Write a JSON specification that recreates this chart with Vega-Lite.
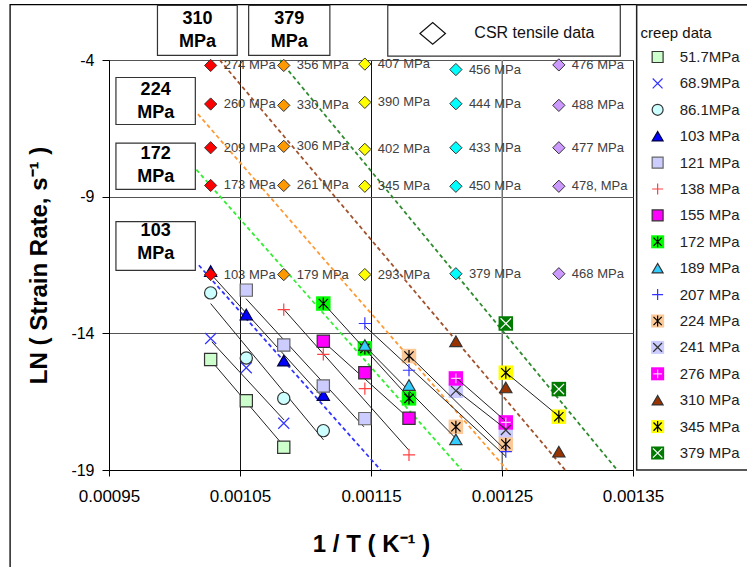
{
  "$schema": "https://vega.github.io/schema/vega-lite/v6.json",
  "width": 524,
  "height": 410,
  "autosize": {"type": "none"},
  "padding": {"left": 109, "top": 60, "right": 114, "bottom": 97},
  "background": "white",
  "config": {
    "font": "Liberation Sans",
    "view": {"stroke": "#808080", "strokeWidth": 1},
    "axisX": {"labelFontSize": 17, "labelColor": "#000", "tickColor": "#000", "tickSize": 6, "domainColor": "#000", "titleFontSize": 24, "titleFontWeight": "bold", "titleColor": "#000", "labelPadding": 12, "titlePadding": 28, "labelFlush": false, "labelFont": "Liberation Sans", "titleFont": "Liberation Sans"},
    "axisY": {"labelFontSize": 16, "labelColor": "#000", "tickColor": "#000", "tickSize": 7, "domainColor": "#000", "titleFontSize": 24, "titleFontWeight": "bold", "titleColor": "#000", "labelPadding": 8, "titlePadding": 19, "labelFlush": false, "labelFont": "Liberation Sans", "titleFont": "Liberation Sans"}
  },
  "datasets": {
    "creep": [
      {"stress": "51.7MPa", "invT": 0.0010276, "ln": -14.96},
      {"stress": "51.7MPa", "invT": 0.0010548, "ln": -16.47},
      {"stress": "51.7MPa", "invT": 0.0010834, "ln": -18.17},
      {"stress": "68.9MPa", "invT": 0.0010276, "ln": -14.19},
      {"stress": "68.9MPa", "invT": 0.0010548, "ln": -15.26},
      {"stress": "68.9MPa", "invT": 0.0010834, "ln": -17.29},
      {"stress": "86.1MPa", "invT": 0.0010276, "ln": -12.52},
      {"stress": "86.1MPa", "invT": 0.0010548, "ln": -14.90},
      {"stress": "86.1MPa", "invT": 0.0010834, "ln": -16.38},
      {"stress": "86.1MPa", "invT": 0.0011136, "ln": -17.56},
      {"stress": "103 MPa", "invT": 0.0010276, "ln": -11.72},
      {"stress": "103 MPa", "invT": 0.0010548, "ln": -13.31},
      {"stress": "103 MPa", "invT": 0.0010834, "ln": -15.00},
      {"stress": "103 MPa", "invT": 0.0011136, "ln": -16.26},
      {"stress": "121 MPa", "invT": 0.0010548, "ln": -12.42},
      {"stress": "121 MPa", "invT": 0.0010834, "ln": -14.43},
      {"stress": "121 MPa", "invT": 0.0011136, "ln": -15.93},
      {"stress": "121 MPa", "invT": 0.0011453, "ln": -17.12},
      {"stress": "138 MPa", "invT": 0.0010834, "ln": -13.13},
      {"stress": "138 MPa", "invT": 0.0011136, "ln": -14.77},
      {"stress": "138 MPa", "invT": 0.0011453, "ln": -16.02},
      {"stress": "138 MPa", "invT": 0.0011790, "ln": -18.45},
      {"stress": "155 MPa", "invT": 0.0011136, "ln": -14.29},
      {"stress": "155 MPa", "invT": 0.0011453, "ln": -15.44},
      {"stress": "155 MPa", "invT": 0.0011790, "ln": -17.11},
      {"stress": "172 MPa", "invT": 0.0011136, "ln": -12.91},
      {"stress": "172 MPa", "invT": 0.0011453, "ln": -14.55},
      {"stress": "172 MPa", "invT": 0.0011790, "ln": -16.38},
      {"stress": "189 MPa", "invT": 0.0011453, "ln": -14.43},
      {"stress": "189 MPa", "invT": 0.0011790, "ln": -15.89},
      {"stress": "189 MPa", "invT": 0.0012148, "ln": -17.88},
      {"stress": "207 MPa", "invT": 0.0011453, "ln": -13.64},
      {"stress": "207 MPa", "invT": 0.0011790, "ln": -15.35},
      {"stress": "207 MPa", "invT": 0.0012529, "ln": -18.33},
      {"stress": "224 MPa", "invT": 0.0011790, "ln": -14.83},
      {"stress": "224 MPa", "invT": 0.0012148, "ln": -17.42},
      {"stress": "224 MPa", "invT": 0.0012529, "ln": -18.05},
      {"stress": "241 MPa", "invT": 0.0012148, "ln": -16.10},
      {"stress": "241 MPa", "invT": 0.0012529, "ln": -17.54},
      {"stress": "276 MPa", "invT": 0.0012148, "ln": -15.65},
      {"stress": "276 MPa", "invT": 0.0012529, "ln": -17.26},
      {"stress": "310 MPa", "invT": 0.0012148, "ln": -14.29},
      {"stress": "310 MPa", "invT": 0.0012529, "ln": -15.98},
      {"stress": "310 MPa", "invT": 0.0012934, "ln": -18.33},
      {"stress": "345 MPa", "invT": 0.0012529, "ln": -15.44},
      {"stress": "345 MPa", "invT": 0.0012934, "ln": -17.05},
      {"stress": "379 MPa", "invT": 0.0012529, "ln": -13.64},
      {"stress": "379 MPa", "invT": 0.0012934, "ln": -16.04}
    ],
    "fits": [
      {"stress": "51.7MPa", "invT": 0.0010276, "ln": -14.98},
      {"stress": "51.7MPa", "invT": 0.0010871, "ln": -18.33},
      {"stress": "68.9MPa", "invT": 0.0010285, "ln": -14.31},
      {"stress": "68.9MPa", "invT": 0.0010836, "ln": -17.17},
      {"stress": "86.1MPa", "invT": 0.0010276, "ln": -12.91},
      {"stress": "86.1MPa", "invT": 0.0011138, "ln": -17.90},
      {"stress": "103 MPa", "invT": 0.0010285, "ln": -11.87},
      {"stress": "103 MPa", "invT": 0.0011138, "ln": -16.38},
      {"stress": "121 MPa", "invT": 0.0010545, "ln": -12.73},
      {"stress": "121 MPa", "invT": 0.0011446, "ln": -17.42},
      {"stress": "138 MPa", "invT": 0.0010836, "ln": -13.13},
      {"stress": "138 MPa", "invT": 0.0011788, "ln": -18.27},
      {"stress": "155 MPa", "invT": 0.0011133, "ln": -14.29},
      {"stress": "155 MPa", "invT": 0.0011788, "ln": -17.11},
      {"stress": "172 MPa", "invT": 0.0011138, "ln": -12.91},
      {"stress": "172 MPa", "invT": 0.0011795, "ln": -16.38},
      {"stress": "189 MPa", "invT": 0.0011446, "ln": -14.43},
      {"stress": "189 MPa", "invT": 0.0012155, "ln": -17.88},
      {"stress": "207 MPa", "invT": 0.0011454, "ln": -13.74},
      {"stress": "207 MPa", "invT": 0.0012531, "ln": -18.51},
      {"stress": "224 MPa", "invT": 0.0011795, "ln": -14.83},
      {"stress": "224 MPa", "invT": 0.0012539, "ln": -18.33},
      {"stress": "241 MPa", "invT": 0.0012155, "ln": -16.10},
      {"stress": "241 MPa", "invT": 0.0012539, "ln": -17.54},
      {"stress": "276 MPa", "invT": 0.0012155, "ln": -15.65},
      {"stress": "276 MPa", "invT": 0.0012539, "ln": -17.26},
      {"stress": "345 MPa", "invT": 0.0012531, "ln": -15.44},
      {"stress": "345 MPa", "invT": 0.0012938, "ln": -17.05}
    ],
    "dashed": [
      {"grp": "d103", "invT": 0.0010186, "ln": -11.51},
      {"grp": "d103", "invT": 0.0011573, "ln": -19.0},
      {"grp": "d172", "invT": 0.0010167, "ln": -8.01},
      {"grp": "d172", "invT": 0.0012193, "ln": -19.0},
      {"grp": "d224", "invT": 0.0010179, "ln": -5.98},
      {"grp": "d224", "invT": 0.0012539, "ln": -19.0},
      {"grp": "d310", "invT": 0.0010345, "ln": -4.0},
      {"grp": "d310", "invT": 0.0012982, "ln": -19.0},
      {"grp": "d379", "invT": 0.0010803, "ln": -4.0},
      {"grp": "d379", "invT": 0.0013379, "ln": -19.0}
    ],
    "tensile": [
      {"col": "t700", "invT": 0.0010276, "ln": -4.20, "label": "274 MPa"},
      {"col": "t700", "invT": 0.0010276, "ln": -5.61, "label": "260 MPa"},
      {"col": "t700", "invT": 0.0010276, "ln": -7.21, "label": "209 MPa"},
      {"col": "t700", "invT": 0.0010276, "ln": -8.59, "label": "173 MPa"},
      {"col": "t700", "invT": 0.0010276, "ln": -11.85, "label": "103 MPa"},
      {"col": "t650", "invT": 0.0010834, "ln": -4.20, "label": "356 MPa"},
      {"col": "t650", "invT": 0.0010834, "ln": -5.66, "label": "330 MPa"},
      {"col": "t650", "invT": 0.0010834, "ln": -7.16, "label": "306 MPa"},
      {"col": "t650", "invT": 0.0010834, "ln": -8.59, "label": "261 MPa"},
      {"col": "t650", "invT": 0.0010834, "ln": -11.85, "label": "179 MPa"},
      {"col": "t600", "invT": 0.0011453, "ln": -4.15, "label": "407 MPa"},
      {"col": "t600", "invT": 0.0011453, "ln": -5.55, "label": "390 MPa"},
      {"col": "t600", "invT": 0.0011453, "ln": -7.27, "label": "402 MPa"},
      {"col": "t600", "invT": 0.0011453, "ln": -8.62, "label": "345 MPa"},
      {"col": "t600", "invT": 0.0011453, "ln": -11.85, "label": "293 MPa"},
      {"col": "t550", "invT": 0.0012148, "ln": -4.35, "label": "456 MPa"},
      {"col": "t550", "invT": 0.0012148, "ln": -5.60, "label": "444 MPa"},
      {"col": "t550", "invT": 0.0012148, "ln": -7.21, "label": "433 MPa"},
      {"col": "t550", "invT": 0.0012148, "ln": -8.62, "label": "450 MPa"},
      {"col": "t550", "invT": 0.0012148, "ln": -11.82, "label": "379 MPa"},
      {"col": "t500", "invT": 0.0012934, "ln": -4.18, "label": "476 MPa"},
      {"col": "t500", "invT": 0.0012934, "ln": -5.66, "label": "488 MPa"},
      {"col": "t500", "invT": 0.0012934, "ln": -7.21, "label": "477 MPa"},
      {"col": "t500", "invT": 0.0012934, "ln": -8.62, "label": "478, MPa"},
      {"col": "t500", "invT": 0.0012934, "ln": -11.82, "label": "468 MPa"}
    ],
    "boxes": [
      {"label": "310\nMPa", "x1": 0.0009870, "x2": 0.0010479, "y1": -2.0, "y2": -3.83, "xc": 0.0010175, "yc": -2.50},
      {"label": "379\nMPa", "x1": 0.0010566, "x2": 0.0011186, "y1": -2.0, "y2": -3.83, "xc": 0.0010876, "yc": -2.50},
      {"label": "224\nMPa", "x1": 0.0009553, "x2": 0.0010159, "y1": -4.64, "y2": -6.36, "xc": 0.0009856, "yc": -5.08},
      {"label": "172\nMPa", "x1": 0.0009553, "x2": 0.0010159, "y1": -7.04, "y2": -8.73, "xc": 0.0009856, "yc": -7.44},
      {"label": "103\nMPa", "x1": 0.0009553, "x2": 0.0010159, "y1": -9.91, "y2": -11.70, "xc": 0.0009856, "yc": -10.25},
      {"label": "", "x1": 0.0011628, "x2": 0.0013403, "y1": -2.0, "y2": -3.86, "xc": 0.0012500, "yc": -2.92}
    ],
    "legend": [
      {"stress": "51.7MPa"}, {"stress": "68.9MPa"}, {"stress": "86.1MPa"}, {"stress": "103 MPa"},
      {"stress": "121 MPa"}, {"stress": "138 MPa"}, {"stress": "155 MPa"}, {"stress": "172 MPa"},
      {"stress": "189 MPa"}, {"stress": "207 MPa"}, {"stress": "224 MPa"}, {"stress": "241 MPa"},
      {"stress": "276 MPa"}, {"stress": "310 MPa"}, {"stress": "345 MPa"}, {"stress": "379 MPa"}
    ]
  },
  "layer": [
    {
      "layer": [
        {
          "data": {"values": [{}]},
          "mark": {"type": "rect", "fill": "transparent", "stroke": "#000", "strokeWidth": 1.3},
          "encoding": {
            "x": {"datum": 0.0008745, "type": "quantitative", "scale": {"domain": [0.00095, 0.00135], "nice": false, "zero": false}},
            "x2": {"datum": 0.0015},
            "y": {"datum": -1.972, "type": "quantitative", "scale": {"domain": [-19, -4], "nice": false, "zero": false}},
            "y2": {"datum": -23}
          }
        },
        {
          "data": {"values": [{}]},
          "mark": {"type": "rect", "fill": "white", "stroke": "#222", "strokeWidth": 1.5},
          "encoding": {
            "x": {"datum": 0.0013528, "type": "quantitative", "scale": {"domain": [0.00095, 0.00135], "nice": false, "zero": false}},
            "x2": {"datum": 0.0015},
            "y": {"datum": -1.99, "type": "quantitative", "scale": {"domain": [-19, -4], "nice": false, "zero": false}},
            "y2": {"datum": -19.0}
          }
        },
        {
          "data": {"values": [{}]},
          "mark": {"type": "rule", "color": "#999999", "strokeWidth": 1.4},
          "encoding": {
            "x": {"datum": 0.00125, "type": "quantitative", "scale": {"domain": [0.00095, 0.00135], "nice": false, "zero": false}},
            "y": {"datum": -4, "type": "quantitative", "scale": {"domain": [-19, -4], "nice": false, "zero": false}},
            "y2": {"datum": -19}
          }
        },
        {
          "data": {"name": "boxes"},
          "mark": {"type": "rect", "fill": "white", "stroke": "#333", "strokeWidth": 1.2},
          "encoding": {
            "x": {"field": "x1", "type": "quantitative", "scale": {"domain": [0.00095, 0.00135], "nice": false, "zero": false}},
            "x2": {"field": "x2"},
            "y": {"field": "y1", "type": "quantitative", "scale": {"domain": [-19, -4], "nice": false, "zero": false}},
            "y2": {"field": "y2"}
          }
        },
        {
          "data": {"name": "boxes"},
          "mark": {"type": "text", "lineBreak": "\n", "fontSize": 18, "fontWeight": "bold", "lineHeight": 23, "align": "center", "baseline": "middle", "color": "#000"},
          "encoding": {
            "x": {"field": "xc", "type": "quantitative", "scale": {"domain": [0.00095, 0.00135], "nice": false, "zero": false}},
            "y": {"field": "yc", "type": "quantitative", "scale": {"domain": [-19, -4], "nice": false, "zero": false}},
            "text": {"field": "label", "type": "nominal"}
          }
        },
        {
          "data": {"name": "dashed"},
          "mark": {"type": "line", "strokeDash": [4, 3], "strokeWidth": 1.8},
          "encoding": {
            "x": {"field": "invT", "type": "quantitative", "scale": {"domain": [0.00095, 0.00135], "nice": false, "zero": false}},
            "y": {"field": "ln", "type": "quantitative", "scale": {"domain": [-19, -4], "nice": false, "zero": false}},
            "color": {"field": "grp", "type": "nominal", "legend": null,
              "scale": {"domain": ["172 MPa", "224 MPa", "241 MPa", "276 MPa", "345 MPa", "379 MPa", "d103", "d172", "d224", "d310", "d379"],
                        "range": ["#00ff00", "#fbc898", "#ccccff", "#ff00ff", "#ffff00", "#007a00", "#3333ff", "#33ee33", "#ff9933", "#a0522d", "#2e8b2e"]}}
          }
        },
        {
          "data": {"name": "creep"},
          "transform": [{"filter": {"field": "stress", "oneOf": ["172 MPa", "224 MPa", "241 MPa", "276 MPa", "345 MPa", "379 MPa"]}}],
          "mark": {"type": "point", "shape": "square", "filled": true, "opacity": 1, "size": 210, "strokeWidth": 0},
          "encoding": {
            "x": {"field": "invT", "type": "quantitative", "scale": {"domain": [0.00095, 0.00135], "nice": false, "zero": false}},
            "y": {"field": "ln", "type": "quantitative", "scale": {"domain": [-19, -4], "nice": false, "zero": false}},
            "color": {"field": "stress", "type": "nominal", "legend": null,
              "scale": {"domain": ["172 MPa", "224 MPa", "241 MPa", "276 MPa", "345 MPa", "379 MPa", "d103", "d172", "d224", "d310", "d379"],
                        "range": ["#00ff00", "#fbc898", "#ccccff", "#ff00ff", "#ffff00", "#007a00", "#3333ff", "#33ee33", "#ff9933", "#a0522d", "#2e8b2e"]}}
          }
        },
        {
          "data": {"name": "fits"},
          "mark": {"type": "line", "color": "#222", "strokeWidth": 1},
          "encoding": {
            "x": {"field": "invT", "type": "quantitative", "scale": {"domain": [0.00095, 0.00135], "nice": false, "zero": false}},
            "y": {"field": "ln", "type": "quantitative", "scale": {"domain": [-19, -4], "nice": false, "zero": false}},
            "detail": {"field": "stress", "type": "nominal"}
          }
        },
        {
          "data": {"name": "creep"},
          "mark": {"type": "point", "opacity": 1, "size": 150, "strokeWidth": 1.2},
          "encoding": {
            "x": {"field": "invT", "type": "quantitative", "scale": {"domain": [0.00095, 0.00135], "nice": false, "zero": false},
              "axis": {"title": "1 / T ( K⁻¹ )", "values": [0.00095, 0.00105, 0.00115, 0.00125, 0.00135], "format": ".5f", "grid": true, "gridColor": "#111111", "gridOpacity": 1}},
            "y": {"field": "ln", "type": "quantitative", "scale": {"domain": [-19, -4], "nice": false, "zero": false},
              "axis": {"title": "LN ( Strain Rate, s⁻¹ )", "values": [-4, -9, -14, -19], "labelExpr": "'' + datum.value", "grid": true, "gridColor": "#555555", "gridOpacity": 1}},
            "shape": {"field": "stress", "type": "nominal", "legend": null,
              "scale": {"domain": ["51.7MPa", "68.9MPa", "86.1MPa", "103 MPa", "121 MPa", "138 MPa", "155 MPa", "172 MPa", "189 MPa", "207 MPa", "224 MPa", "241 MPa", "276 MPa", "310 MPa", "345 MPa", "379 MPa"],
                        "range": ["square", "M-0.9,-0.9L0.9,0.9M0.9,-0.9L-0.9,0.9", "circle", "triangle-up", "square", "M-1,0H1M0,-1V1", "square", "M-0.75,-0.75L0.75,0.75M0.75,-0.75L-0.75,0.75M0,-1V1", "triangle-up", "M-1,0H1M0,-1V1", "M-0.75,-0.75L0.75,0.75M0.75,-0.75L-0.75,0.75M0,-1V1", "M-0.8,-0.8L0.8,0.8M0.8,-0.8L-0.8,0.8", "M-0.8,0H0.8M0,-0.8V0.8", "triangle-up", "M-0.75,-0.75L0.75,0.75M0.75,-0.75L-0.75,0.75M0,-1V1", "M-0.85,-0.85L0.85,0.85M0.85,-0.85L-0.85,0.85"]}},
            "fill": {"field": "stress", "type": "nominal", "legend": null,
              "scale": {"domain": ["51.7MPa", "68.9MPa", "86.1MPa", "103 MPa", "121 MPa", "138 MPa", "155 MPa", "172 MPa", "189 MPa", "207 MPa", "224 MPa", "241 MPa", "276 MPa", "310 MPa", "345 MPa", "379 MPa", "t700", "t650", "t600", "t550", "t500"],
                        "range": ["#ccffcc", "transparent", "#ccffff", "#0000ff", "#ccccff", "transparent", "#ff00ff", "transparent", "#33ccff", "transparent", "transparent", "transparent", "transparent", "#993300", "transparent", "transparent", "#ff0000", "#ff9900", "#ffff00", "#00ffff", "#cc99ff"]}},
            "stroke": {"field": "stress", "type": "nominal", "legend": null,
              "scale": {"domain": ["51.7MPa", "68.9MPa", "86.1MPa", "103 MPa", "121 MPa", "138 MPa", "155 MPa", "172 MPa", "189 MPa", "207 MPa", "224 MPa", "241 MPa", "276 MPa", "310 MPa", "345 MPa", "379 MPa"],
                        "range": ["#333333", "#3333ff", "#333333", "#000044", "#666666", "#ff4040", "#333333", "#000000", "#333333", "#3333ff", "#000000", "#333333", "#ffccff", "#333333", "#000000", "#ffffff"]}}
          }
        },
        {
          "data": {"name": "tensile"},
          "mark": {"type": "point", "shape": "diamond", "opacity": 1, "size": 150, "stroke": "#333", "strokeWidth": 1},
          "encoding": {
            "x": {"field": "invT", "type": "quantitative", "scale": {"domain": [0.00095, 0.00135], "nice": false, "zero": false}},
            "y": {"field": "ln", "type": "quantitative", "scale": {"domain": [-19, -4], "nice": false, "zero": false}},
            "fill": {"field": "col", "type": "nominal", "legend": null,
              "scale": {"domain": ["51.7MPa", "68.9MPa", "86.1MPa", "103 MPa", "121 MPa", "138 MPa", "155 MPa", "172 MPa", "189 MPa", "207 MPa", "224 MPa", "241 MPa", "276 MPa", "310 MPa", "345 MPa", "379 MPa", "t700", "t650", "t600", "t550", "t500"],
                        "range": ["#ccffcc", "transparent", "#ccffff", "#0000ff", "#ccccff", "transparent", "#ff00ff", "transparent", "#33ccff", "transparent", "transparent", "transparent", "transparent", "#993300", "transparent", "transparent", "#ff0000", "#ff9900", "#ffff00", "#00ffff", "#cc99ff"]}}
          }
        },
        {
          "data": {"name": "tensile"},
          "mark": {"type": "text", "align": "left", "baseline": "middle", "dx": 13, "fontSize": 13, "color": "#404040"},
          "encoding": {
            "x": {"field": "invT", "type": "quantitative", "scale": {"domain": [0.00095, 0.00135], "nice": false, "zero": false}},
            "y": {"field": "ln", "type": "quantitative", "scale": {"domain": [-19, -4], "nice": false, "zero": false}},
            "text": {"field": "label", "type": "nominal"}
          }
        },
        {
          "data": {"values": [{}]},
          "mark": {"type": "point", "shape": "M-1,0L0,-0.85L1,0L0,0.85Z", "size": 650, "fill": "white", "stroke": "#111", "strokeWidth": 1.2, "opacity": 1},
          "encoding": {
            "x": {"datum": 0.0011971, "type": "quantitative", "scale": {"domain": [0.00095, 0.00135], "nice": false, "zero": false}},
            "y": {"datum": -3.03, "type": "quantitative", "scale": {"domain": [-19, -4], "nice": false, "zero": false}}
          }
        },
        {
          "data": {"values": [{"t": "CSR tensile data"}]},
          "mark": {"type": "text", "align": "left", "baseline": "middle", "fontSize": 16, "color": "#111"},
          "encoding": {
            "x": {"datum": 0.0012289, "type": "quantitative", "scale": {"domain": [0.00095, 0.00135], "nice": false, "zero": false}},
            "y": {"datum": -3.03, "type": "quantitative", "scale": {"domain": [-19, -4], "nice": false, "zero": false}},
            "text": {"field": "t", "type": "nominal"}
          }
        },
        {
          "data": {"values": [{"t": "creep data"}]},
          "mark": {"type": "text", "align": "left", "baseline": "middle", "fontSize": 15, "color": "#111"},
          "encoding": {
            "x": {"datum": 0.0013558, "type": "quantitative", "scale": {"domain": [0.00095, 0.00135], "nice": false, "zero": false}},
            "y": {"datum": -2.995, "type": "quantitative", "scale": {"domain": [-19, -4], "nice": false, "zero": false}},
            "text": {"field": "t", "type": "nominal"}
          }
        }
      ]
    },
    {
      "data": {"name": "legend"},
      "layer": [
        {
          "transform": [{"filter": {"field": "stress", "oneOf": ["172 MPa", "224 MPa", "241 MPa", "276 MPa", "345 MPa", "379 MPa"]}}],
          "mark": {"type": "point", "shape": "square", "filled": true, "opacity": 1, "size": 170, "strokeWidth": 0},
          "encoding": {
            "x": {"datum": 0.0013688, "type": "quantitative", "scale": {"domain": [0.00095, 0.00135], "nice": false, "zero": false}},
            "y": {"field": "stress", "type": "nominal", "axis": null,
              "scale": {"type": "point", "domain": ["51.7MPa", "68.9MPa", "86.1MPa", "103 MPa", "121 MPa", "138 MPa", "155 MPa", "172 MPa", "189 MPa", "207 MPa", "224 MPa", "241 MPa", "276 MPa", "310 MPa", "345 MPa", "379 MPa"], "range": [-3, 393], "padding": 0}},
            "color": {"field": "stress", "type": "nominal", "legend": null,
              "scale": {"domain": ["172 MPa", "224 MPa", "241 MPa", "276 MPa", "345 MPa", "379 MPa", "d103", "d172", "d224", "d310", "d379"],
                        "range": ["#00ff00", "#fbc898", "#ccccff", "#ff00ff", "#ffff00", "#007a00", "#3333ff", "#33ee33", "#ff9933", "#a0522d", "#2e8b2e"]}}
          }
        },
        {
          "mark": {"type": "point", "opacity": 1, "size": 120, "strokeWidth": 1.2},
          "encoding": {
            "x": {"datum": 0.0013688, "type": "quantitative", "scale": {"domain": [0.00095, 0.00135], "nice": false, "zero": false}},
            "y": {"field": "stress", "type": "nominal", "axis": null,
              "scale": {"type": "point", "domain": ["51.7MPa", "68.9MPa", "86.1MPa", "103 MPa", "121 MPa", "138 MPa", "155 MPa", "172 MPa", "189 MPa", "207 MPa", "224 MPa", "241 MPa", "276 MPa", "310 MPa", "345 MPa", "379 MPa"], "range": [-3, 393], "padding": 0}},
            "shape": {"field": "stress", "type": "nominal", "legend": null,
              "scale": {"domain": ["51.7MPa", "68.9MPa", "86.1MPa", "103 MPa", "121 MPa", "138 MPa", "155 MPa", "172 MPa", "189 MPa", "207 MPa", "224 MPa", "241 MPa", "276 MPa", "310 MPa", "345 MPa", "379 MPa"],
                        "range": ["square", "M-0.9,-0.9L0.9,0.9M0.9,-0.9L-0.9,0.9", "circle", "triangle-up", "square", "M-1,0H1M0,-1V1", "square", "M-0.75,-0.75L0.75,0.75M0.75,-0.75L-0.75,0.75M0,-1V1", "triangle-up", "M-1,0H1M0,-1V1", "M-0.75,-0.75L0.75,0.75M0.75,-0.75L-0.75,0.75M0,-1V1", "M-0.8,-0.8L0.8,0.8M0.8,-0.8L-0.8,0.8", "M-0.8,0H0.8M0,-0.8V0.8", "triangle-up", "M-0.75,-0.75L0.75,0.75M0.75,-0.75L-0.75,0.75M0,-1V1", "M-0.85,-0.85L0.85,0.85M0.85,-0.85L-0.85,0.85"]}},
            "fill": {"field": "stress", "type": "nominal", "legend": null,
              "scale": {"domain": ["51.7MPa", "68.9MPa", "86.1MPa", "103 MPa", "121 MPa", "138 MPa", "155 MPa", "172 MPa", "189 MPa", "207 MPa", "224 MPa", "241 MPa", "276 MPa", "310 MPa", "345 MPa", "379 MPa", "t700", "t650", "t600", "t550", "t500"],
                        "range": ["#ccffcc", "transparent", "#ccffff", "#0000ff", "#ccccff", "transparent", "#ff00ff", "transparent", "#33ccff", "transparent", "transparent", "transparent", "transparent", "#993300", "transparent", "transparent", "#ff0000", "#ff9900", "#ffff00", "#00ffff", "#cc99ff"]}},
            "stroke": {"field": "stress", "type": "nominal", "legend": null,
              "scale": {"domain": ["51.7MPa", "68.9MPa", "86.1MPa", "103 MPa", "121 MPa", "138 MPa", "155 MPa", "172 MPa", "189 MPa", "207 MPa", "224 MPa", "241 MPa", "276 MPa", "310 MPa", "345 MPa", "379 MPa"],
                        "range": ["#333333", "#3333ff", "#333333", "#000044", "#666666", "#ff4040", "#333333", "#000000", "#333333", "#3333ff", "#000000", "#333333", "#ffccff", "#333333", "#000000", "#ffffff"]}}
          }
        },
        {
          "mark": {"type": "text", "align": "left", "baseline": "middle", "fontSize": 15, "color": "#222"},
          "encoding": {
            "x": {"datum": 0.0013856, "type": "quantitative", "scale": {"domain": [0.00095, 0.00135], "nice": false, "zero": false}},
            "y": {"field": "stress", "type": "nominal", "axis": null,
              "scale": {"type": "point", "domain": ["51.7MPa", "68.9MPa", "86.1MPa", "103 MPa", "121 MPa", "138 MPa", "155 MPa", "172 MPa", "189 MPa", "207 MPa", "224 MPa", "241 MPa", "276 MPa", "310 MPa", "345 MPa", "379 MPa"], "range": [-3, 393], "padding": 0}},
            "text": {"field": "stress", "type": "nominal"}
          }
        }
      ]
    }
  ],
  "resolve": {"scale": {"y": "independent"}}
}
